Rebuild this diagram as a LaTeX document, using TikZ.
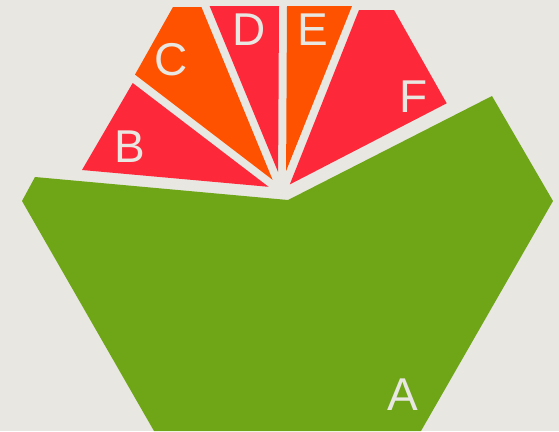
\documentclass[tikz,border=0pt]{standalone}
\usepackage{fontspec}
\setmainfont{Liberation Sans}
\definecolor{bg}{HTML}{E8E7E2}
\definecolor{grn}{HTML}{6EA618}
\definecolor{redw}{HTML}{FD293B}
\definecolor{orgw}{HTML}{FF5200}
\begin{document}
\begin{tikzpicture}[x=1pt,y=-1pt,
  lbl/.style={text=bg, inner sep=0pt, font=\fontsize{46}{46}\selectfont}]
\fill[bg] (0,0) rectangle (559,431);
\useasboundingbox (0,0) rectangle (559,431);
% A
\fill[grn] (22,201) -- (35,177) -- (288,200) -- (492,96) -- (553,201) -- (421,431) -- (154,431) -- cycle;
% B
\fill[redw] (82,170) -- (132.7,83) -- (268.6,186.8) -- cycle;
% C
\fill[orgw] (135,74.6) -- (173,7) -- (201.4,7) -- (272.6,179.8) -- cycle;
% D
\fill[redw] (209.6,6) -- (279,6) -- (278.1,172.1) -- cycle;
% E
\fill[orgw] (287,6) -- (352,6) -- (286.1,170.9) -- cycle;
% F
\fill[redw] (359,10) -- (394,10) -- (446.7,103.3) -- (289.8,184.4) -- cycle;
% labels
\node[lbl] (la) at (403,394.5) {A};
\node[lbl] (lb) at (130,146.5) {B};
\node[lbl] (lc) at (171,59.5) {C};
\node[lbl] (ld) at (249,29.5) {D};
\node[lbl] (le) at (312.5,29.5) {E};
\node[lbl] (lf) at (414,96.5) {F};
\end{tikzpicture}
\end{document}
